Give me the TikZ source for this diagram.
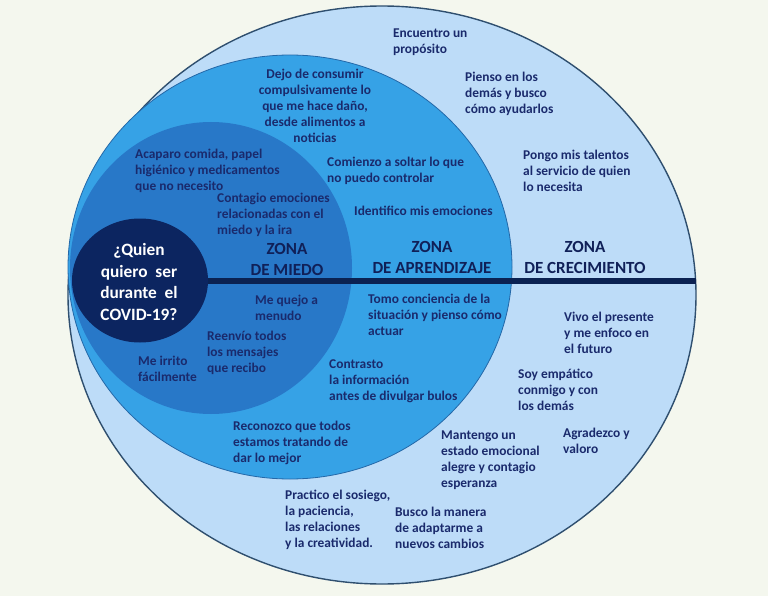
\documentclass[tikz,border=0pt]{standalone}
\usepackage{fontspec}
\setmainfont{Carlito}
\usetikzlibrary{shapes.geometric}
\definecolor{bgc}{HTML}{F4F7EE}
\definecolor{outerc}{HTML}{BDDCF8}
\definecolor{outerl}{HTML}{2F4F6F}
\definecolor{aprc}{HTML}{36A2E6}
\definecolor{aprl}{HTML}{2468A8}
\definecolor{miedoc}{HTML}{2878C8}
\definecolor{navyc}{HTML}{0C2560}
\definecolor{linec}{HTML}{0B2252}
\definecolor{txtc}{HTML}{1A2A6C}
\definecolor{zonec}{HTML}{102058}
\tikzset{
  zone/.style={ellipse, inner sep=0pt, outer sep=0pt},
  item/.style={anchor=west, align=left, inner sep=0pt, text=txtc,
     font=\fontsize{13.4}{16}\selectfont\bfseries},
  citem/.style={item, anchor=center, align=center},
  zlabel/.style={anchor=center, align=center, inner sep=0pt, text=zonec,
     font=\fontsize{17}{21}\selectfont\bfseries},
  qlabel/.style={anchor=center, align=center, inner sep=0pt, text=white,
     font=\fontsize{17.3}{21.5}\selectfont\bfseries}
}
\begin{document}
\begin{tikzpicture}[x=1pt,y=-1pt]
\useasboundingbox (0,0) rectangle (768,596);
\fill[bgc] (0,0) rectangle (768,596);
% zones
\node[zone, fill=outerc, draw=outerl, line width=1.4pt,
      minimum width=628pt, minimum height=578pt] (outer) at (382,295) {};
\node[zone, fill=aprc, draw=aprl, line width=0.8pt,
      minimum width=444pt, minimum height=424pt] (apr) at (290,267) {};
\node[zone, fill=miedoc, minimum width=282pt, minimum height=292pt] (miedo) at (211,268) {};
\node[zone, fill=navyc, minimum width=136pt, minimum height=124pt] (navy) at (140,280.5) {};
\coordinate (lineend) at (695.5,281);
\draw[linec, line width=5.5pt] (navy.east |- lineend) -- (lineend);
% question
\node[qlabel] (q) at (139,282) {¿Quien\\quiero\ \ ser\\durante\ \ el\\COVID-19?};
% zone labels
\node[zlabel] (zm) at (287,259) {ZONA\\DE MIEDO};
\node[zlabel] (za) at (432,257.5) {ZONA\\DE APRENDIZAJE};
\node[zlabel] (zc) at (585,257.5) {ZONA\\DE CRECIMIENTO};
% crecimiento top
\node[item] (c1) at (393,42) {Encuentro un\\propósito};
\node[item] (c2) at (465,94) {Pienso en los\\demás y busco\\cómo ayudarlos};
\node[item] (c3) at (523,171) {Pongo mis talentos\\al servicio de quien\\lo necesita};
% aprendizaje top
\node[citem] (a1) at (315,106) {Dejo de consumir\\compulsivamente lo\\que me hace daño,\\desde alimentos a\\noticias};
\node[item] (a2) at (327,171) {Comienzo a soltar lo que\\no puedo controlar};
\node[item] (a3) at (354,211) {Identifico mis emociones};
% miedo top
\node[item] (m1) at (135,170.5) {Acaparo comida, papel\\higiénico y medicamentos\\que no necesito};
\node[item] (m2) at (217,214.5) {Contagio emociones\\relacionadas con el\\miedo y la ira};
% miedo bottom
\node[item] (m3) at (255,308) {Me quejo a\\menudo};
\node[item] (m4) at (207,352.5) {Reenvío todos\\los mensajes\\que recibo};
\node[item] (m5) at (138,369) {Me irrito\\fácilmente};
% aprendizaje bottom
\node[item] (a4) at (368,315) {Tomo conciencia de la\\situación y pienso cómo\\actuar};
\node[item] (a5) at (329,381) {Contrasto\\la información\\antes de divulgar bulos};
\node[item] (a6) at (233,442.5) {Reconozco que todos\\estamos tratando de\\dar lo mejor};
% crecimiento bottom
\node[item] (c4) at (564,333) {Vivo el presente\\y me enfoco en\\el futuro};
\node[item] (c5) at (518,390) {Soy empático\\conmigo y con\\los demás};
\node[item] (c6) at (563,441) {Agradezco y\\valoro};
\node[item] (c7) at (441,460.5) {Mantengo un\\estado emocional\\alegre y contagio\\esperanza};
\node[item] (c8) at (285,519.5) {Practico el sosiego,\\la paciencia,\\las relaciones\\y la creatividad.};
\node[item] (c9) at (395,527.5) {Busco la manera\\de adaptarme a\\nuevos cambios};
\end{tikzpicture}
\end{document}
